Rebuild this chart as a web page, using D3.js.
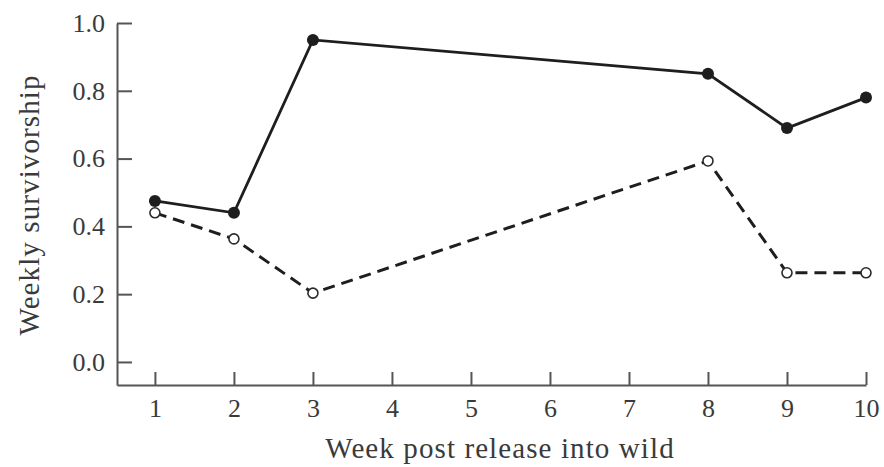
<!DOCTYPE html>
<html>
<head>
<meta charset="utf-8">
<script src="https://cdn.jsdelivr.net/npm/d3@7"></script>
<style>
  html, body { margin: 0; padding: 0; background: #fff; }
  svg { display: block; }
  .axis text { font-family: "Liberation Serif", "Times New Roman", serif; font-size: 26px; fill: #3a3a3a; }
  .axis path, .axis line { stroke: #555; stroke-width: 2; }
  .title { font-family: "Liberation Serif", "Times New Roman", serif; font-size: 29px; fill: #3a3a3a; letter-spacing: 1.1px; }
</style>
</head>
<body>
<svg id="main-svg" width="884" height="467"></svg>
<script>

// weeks after release (x categories)
var weeks = [ 1, 2, 3, 8, 9, 10 ],
	tickWeeks = [ 1, 2, 3, 4, 5, 6, 7, 8, 9, 10 ],
	// filled circles, solid line
	survivalSolid = [ 0.475, 0.44, 0.95, 0.85, 0.69, 0.78 ],
	// open circles, dashed line
	survivalDashed = [ 0.44, 0.363, 0.203, 0.593, 0.263, 0.263 ],
	yTicks = [ 0, 0.2, 0.4, 0.6, 0.8, 1.0 ];

var svg = d3.select( 'svg#main-svg' );

// tick labels 4..7 sit evenly between 3 and 8 on the original, so positions are by tick index
var x = d3.scaleLinear().domain( [ 0.52, 10 ] ).range( [ 117, 866 ] ),
	y = d3.scaleLinear().domain( [ -0.068, 1 ] ).range( [ 385, 23 ] );

var xAxis = svg.append( 'g' )
	.attr( 'class', 'axis' )
	.attr( 'transform', 'translate(0,385)' )
	.call( d3.axisBottom( x )
		.tickValues( tickWeeks )
		.tickSizeInner( -13 )
		.tickSizeOuter( 0 )
		.tickPadding( 14 )
		.tickFormat( d3.format( 'd' ) ) );

var yAxis = svg.append( 'g' )
	.attr( 'class', 'axis' )
	.attr( 'transform', 'translate(117,0)' )
	.call( d3.axisLeft( y )
		.tickValues( yTicks )
		.tickSizeInner( -15 )
		.tickSizeOuter( 0 )
		.tickPadding( 12 )
		.tickFormat( d3.format( '.1f' ) ) );

svg.selectAll( '.axis' ).attr( 'font-family', null ).attr( 'font-size', null );

// axis titles
svg.append( 'text' )
	.attr( 'class', 'title' )
	.attr( 'x', 500 )
	.attr( 'y', 458 )
	.attr( 'text-anchor', 'middle' )
	.text( 'Week post release into wild' );

svg.append( 'text' )
	.attr( 'class', 'title' )
	.attr( 'transform', 'translate(39,205) rotate(-90)' )
	.attr( 'text-anchor', 'middle' )
	.text( 'Weekly survivorship' );

var solidPts = weeks.map( function( w, i ) { return { week: w, v: survivalSolid[ i ] }; } ),
	dashedPts = weeks.map( function( w, i ) { return { week: w, v: survivalDashed[ i ] }; } );

var line = d3.line()
	.x( function( d ) { return x( d.week ); } )
	.y( function( d ) { return y( d.v ); } );

svg.append( 'path' )
	.datum( dashedPts )
	.attr( 'd', line )
	.attr( 'fill', 'none' )
	.attr( 'stroke', '#1e1e1e' )
	.attr( 'stroke-width', 3 )
	.attr( 'stroke-dasharray', '12,7' );

svg.append( 'path' )
	.datum( solidPts )
	.attr( 'd', line )
	.attr( 'fill', 'none' )
	.attr( 'stroke', '#1e1e1e' )
	.attr( 'stroke-width', 2.8 );

svg.selectAll( 'circle.open' )
	.data( dashedPts )
	.enter().append( 'circle' )
	.attr( 'class', 'open' )
	.attr( 'cx', function( d ) { return x( d.week ); } )
	.attr( 'cy', function( d ) { return y( d.v ); } )
	.attr( 'r', 5 )
	.attr( 'fill', '#fff' )
	.attr( 'stroke', '#2a2a2a' )
	.attr( 'stroke-width', 1.6 );

svg.selectAll( 'circle.filled' )
	.data( solidPts )
	.enter().append( 'circle' )
	.attr( 'class', 'filled' )
	.attr( 'cx', function( d ) { return x( d.week ); } )
	.attr( 'cy', function( d ) { return y( d.v ); } )
	.attr( 'r', 6 )
	.attr( 'fill', '#1e1e1e' );

</script>
</body>
</html>
